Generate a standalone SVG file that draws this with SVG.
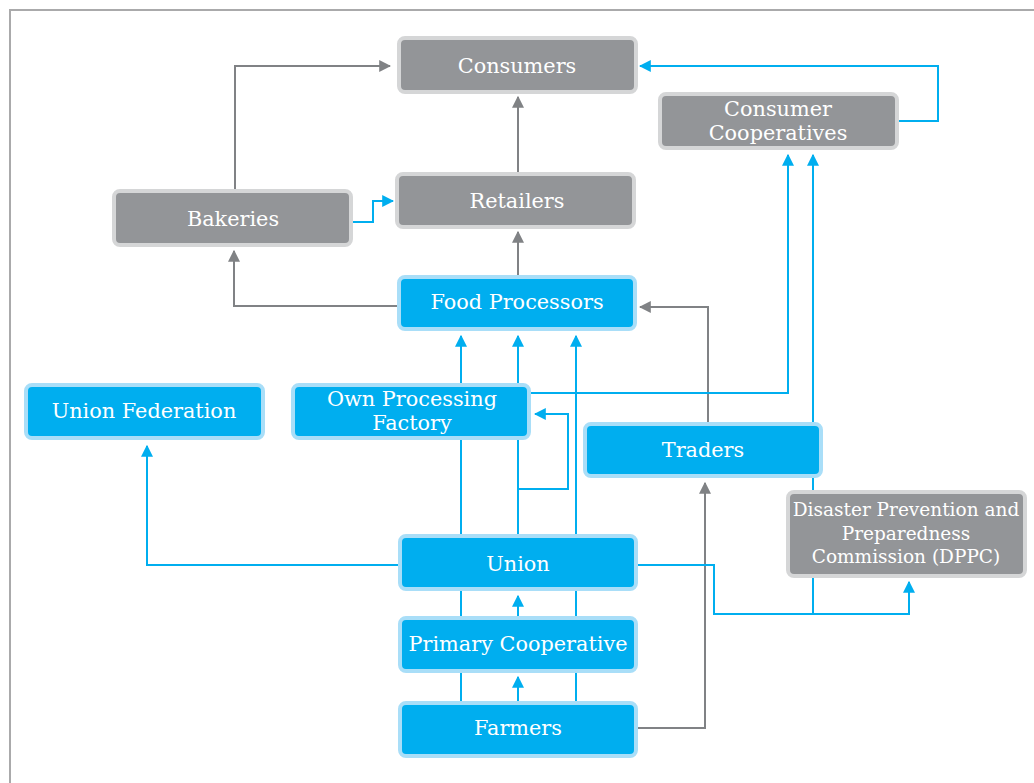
<svg xmlns="http://www.w3.org/2000/svg" width="1034" height="783" viewBox="0 0 1034 783">
  <style>
    .frame { fill: none; stroke: #aaaaab; stroke-width: 2; }
    .node-blue rect { fill: #00aeef; stroke: #a9def8; stroke-width: 4; }
    .node-gray rect { fill: #939598; stroke: #d5d6d7; stroke-width: 4; }
    .node-blue text, .node-gray text { font-family: "DejaVu Serif", "Liberation Serif", serif; font-size: 20.8px; fill: #ffffff; text-anchor: middle; }
    .small text { font-size: 18.5px; }
    .blue { fill: none; stroke: #00aeef; stroke-width: 2; }
    .gray { fill: none; stroke: #808285; stroke-width: 2; }
  </style>
  <defs>
    <marker id="arrow-blue" viewBox="0 0 10 10" refX="9" refY="5" markerWidth="6" markerHeight="6" markerUnits="strokeWidth" orient="auto">
      <path d="M0,0 L10,5 L0,10 z" fill="#00aeef"/>
    </marker>
    <marker id="arrow-gray" viewBox="0 0 10 10" refX="9" refY="5" markerWidth="6" markerHeight="6" markerUnits="strokeWidth" orient="auto">
      <path d="M0,0 L10,5 L0,10 z" fill="#808285"/>
    </marker>
  </defs>

  <rect width="1034" height="783" fill="#ffffff"/>
  <path class="frame" d="M10,783 L10,10 L1034,10"/>

  <!-- connectors (drawn first so boxes sit on top of pass-through lines) -->
  <g id="connectors">
    <!-- gray flows -->
    <path class="gray" d="M235,189 L235,66 L390,66" marker-end="url(#arrow-gray)"/>
    <path class="gray" d="M518,172 L518,97" marker-end="url(#arrow-gray)"/>
    <path class="gray" d="M518,275 L518,232" marker-end="url(#arrow-gray)"/>
    <path class="gray" d="M397,306 L234,306 L234,251" marker-end="url(#arrow-gray)"/>
    <path class="gray" d="M708,422 L708,307 L640,307" marker-end="url(#arrow-gray)"/>
    <path class="gray" d="M638,728 L705,728 L705,483" marker-end="url(#arrow-gray)"/>

    <!-- blue flows -->
    <path class="blue" d="M353,222 L373,222 L373,201 L393,201" marker-end="url(#arrow-blue)"/>
    <path class="blue" d="M899,121 L938,121 L938,66 L640,66" marker-end="url(#arrow-blue)"/>
    <path class="blue" d="M461,534 L461,336" marker-end="url(#arrow-blue)"/>
    <path class="blue" d="M518,534 L518,336" marker-end="url(#arrow-blue)"/>
    <path class="blue" d="M576,534 L576,336" marker-end="url(#arrow-blue)"/>
    <path class="blue" d="M518,489 L568,489 L568,414 L535,414" marker-end="url(#arrow-blue)"/>
    <path class="blue" d="M531,393 L788,393 L788,155" marker-end="url(#arrow-blue)"/>
    <path class="blue" d="M813,614 L813,155" marker-end="url(#arrow-blue)"/>
    <path class="blue" d="M638,565 L714,565 L714,614 L909,614 L909,582" marker-end="url(#arrow-blue)"/>
    <path class="blue" d="M398,565 L147,565 L147,446" marker-end="url(#arrow-blue)"/>
    <path class="blue" d="M461,701 L461,591"/>
    <path class="blue" d="M576,701 L576,591"/>
    <path class="blue" d="M518,701 L518,677" marker-end="url(#arrow-blue)"/>
    <path class="blue" d="M518,616 L518,596" marker-end="url(#arrow-blue)"/>
  </g>

  <g id="consumers" class="node-gray">
    <rect x="399" y="38" width="237" height="54" rx="6"/>
    <text x="517" y="73">Consumers</text>
  </g>
  <g id="consumer-cooperatives" class="node-gray">
    <rect x="660" y="94" width="237" height="54" rx="6"/>
    <text x="778" y="116">Consumer</text>
    <text x="778" y="140">Cooperatives</text>
  </g>
  <g id="retailers" class="node-gray">
    <rect x="397" y="174" width="237" height="53" rx="6"/>
    <text x="517" y="208">Retailers</text>
  </g>
  <g id="bakeries" class="node-gray">
    <rect x="114" y="191" width="237" height="54" rx="6"/>
    <text x="233" y="226">Bakeries</text>
  </g>
  <g id="food-processors" class="node-blue">
    <rect x="399" y="277" width="236" height="52" rx="6"/>
    <text x="517" y="309">Food Processors</text>
  </g>
  <g id="union-federation" class="node-blue">
    <rect x="26" y="385" width="237" height="53" rx="6"/>
    <text x="144" y="418">Union Federation</text>
  </g>
  <g id="own-processing-factory" class="node-blue">
    <rect x="293" y="385" width="236" height="53" rx="6"/>
    <text x="412" y="406">Own Processing</text>
    <text x="412" y="430">Factory</text>
  </g>
  <g id="traders" class="node-blue">
    <rect x="585" y="424" width="236" height="52" rx="6"/>
    <text x="703" y="457">Traders</text>
  </g>
  <g id="dppc" class="node-gray small">
    <rect x="788" y="492" width="237" height="84" rx="6"/>
    <text x="906" y="516">Disaster Prevention and</text>
    <text x="906" y="540">Preparedness</text>
    <text x="906" y="563">Commission (DPPC)</text>
  </g>
  <g id="union" class="node-blue">
    <rect x="400" y="536" width="236" height="53" rx="6"/>
    <text x="518" y="571">Union</text>
  </g>
  <g id="primary-cooperative" class="node-blue">
    <rect x="400" y="618" width="236" height="53" rx="6"/>
    <text x="518" y="651">Primary Cooperative</text>
  </g>
  <g id="farmers" class="node-blue">
    <rect x="400" y="703" width="236" height="53" rx="6"/>
    <text x="518" y="735">Farmers</text>
  </g>
</svg>
